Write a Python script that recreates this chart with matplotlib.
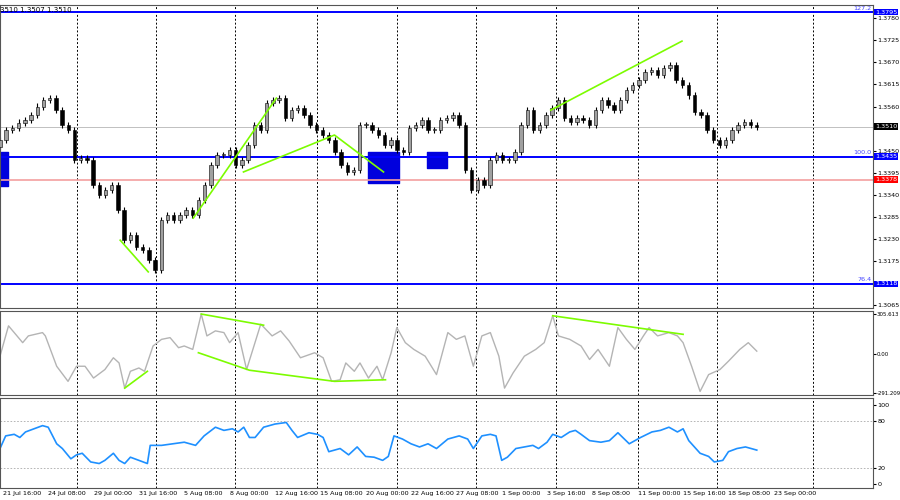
import numpy as np
import matplotlib
matplotlib.use("Agg")
import matplotlib.pyplot as plt

# ---- data ----
closes = [1.3476, 1.3501, 1.3506, 1.3520, 1.3526, 1.3539, 1.3560, 1.3576, 1.3581, 1.3551,
          1.3514, 1.3501, 1.3427, 1.3432, 1.3427, 1.3364, 1.3339, 1.3352, 1.3364, 1.3302,
          1.3227, 1.3240, 1.3210, 1.3203, 1.3178, 1.3153, 1.3277, 1.3290, 1.3277, 1.3290,
          1.3302, 1.3290, 1.3327, 1.3364, 1.3414, 1.3439, 1.3439, 1.3452, 1.3414, 1.3427,
          1.3464, 1.3514, 1.3501, 1.3569, 1.3576, 1.3581, 1.3531, 1.3551, 1.3556, 1.3539,
          1.3514, 1.3501, 1.3489, 1.3476, 1.3447, 1.3414, 1.3397, 1.3402, 1.3514, 1.3514,
          1.3501, 1.3489, 1.3464, 1.3476, 1.3452, 1.3447, 1.3506, 1.3514, 1.3526, 1.3501,
          1.3501, 1.3526, 1.3531, 1.3539, 1.3514, 1.3402, 1.3352, 1.3377, 1.3364, 1.3427,
          1.3439, 1.3427, 1.3427, 1.3447, 1.3514, 1.3551, 1.3501, 1.3514, 1.3539, 1.3556,
          1.3576, 1.3531, 1.3521, 1.3531, 1.3526, 1.3514, 1.3551, 1.3576, 1.3564, 1.3551,
          1.3576, 1.3601, 1.3613, 1.3626, 1.3646, 1.3651, 1.3638, 1.3656, 1.3663, 1.3626,
          1.3613, 1.3588, 1.3546, 1.3539, 1.3501, 1.3476, 1.3464, 1.3476, 1.3501, 1.3514,
          1.3521, 1.3514, 1.3510]
first_open = 1.3460
last_bar = 267

cci_x = [0, 3, 6, 8, 10, 15, 16, 20, 24, 27, 30, 33, 37, 40, 42, 44, 46, 49, 51, 54, 57, 60, 63, 65,
         68, 71, 73, 76, 79, 81, 84, 87, 92, 96, 99, 102, 106, 111, 114, 117, 120, 122, 125, 127,
         130, 133, 135, 138, 140, 143, 146, 150, 154, 158, 161, 164, 167, 170, 173, 176, 178, 181,
         185, 189, 192, 195, 197, 201, 205, 208, 211, 215, 218, 221, 224, 227, 229, 232, 236, 239,
         241, 244, 247, 250, 254, 257, 261, 264, 267]
cci_y = [-13, 216, 140, 89, 140, 165, 140, -89, -203, -89, -89, -178, -114, -25, -64, -254, -127,
         -102, -127, 64, 114, 127, 51, 64, 38, 305, 140, 178, 165, 89, 165, -114, 229, 140, 178,
         102, -25, 13, -25, -203, -191, -64, -127, -64, -178, -89, -191, 13, 203, 89, 38, -13,
         -152, 165, 114, 140, -89, 140, 165, -13, -254, -140, -13, 38, 89, 292, 140, 114, 64,
         -38, 38, -89, 203, 114, 38, 140, 203, 140, 165, 140, 89, -89, -279, -152, -114, -51,
         38, 89, 25]

rsi_x = [0, 2, 5, 7, 9, 12, 15, 17, 20, 22, 25, 27, 29, 32, 35, 37, 40, 42, 44, 46, 49, 52, 53, 57,
         61, 65, 69, 72, 76, 79, 82, 84, 86, 88, 90, 93, 97, 101, 103, 105, 109, 112, 114, 116,
         120, 123, 126, 129, 132, 135, 137, 139, 142, 145, 148, 151, 154, 158, 162, 165, 167,
         170, 173, 175, 177, 179, 182, 185, 188, 190, 193, 195, 198, 201, 203, 205, 208, 212,
         215, 218, 222, 226, 230, 233, 236, 239, 241, 243, 247, 250, 252, 255, 257, 260, 263, 267]
rsi_y = [45, 61, 63, 59, 66, 70, 74, 72, 51, 45, 32, 37, 39, 28, 26, 30, 39, 30, 26, 34, 30, 26,
         49, 49, 51, 53, 49, 61, 72, 68, 70, 66, 72, 59, 59, 72, 76, 78, 68, 59, 65, 63, 59, 41,
         45, 37, 47, 35, 34, 30, 35, 61, 57, 51, 47, 51, 45, 57, 61, 57, 45, 61, 63, 61, 30, 34,
         45, 47, 49, 45, 53, 63, 59, 66, 68, 63, 55, 53, 55, 65, 51, 59, 66, 68, 72, 66, 70, 55,
         39, 35, 28, 30, 41, 45, 47, 43]

red_level = 1.3378
last_price = 1.3510
price_ticks = [1.3780, 1.3725, 1.3670, 1.3615, 1.3560, 1.3450, 1.3395, 1.3340, 1.3285,
               1.3230, 1.3175, 1.3065]
boxed = [("1.3795", 1.3795, "#0000ff"), ("1.3435", 1.3435, "#0000ff"), ("1.3118", 1.3118, "#0000ff"),
         ("1.3378", 1.3378, "red"), ("1.3510", 1.3510, "black")]
fibo = [("127.2", 1.3795), ("100.0", 1.3435), ("76.4", 1.3118)]
date_labels = ["21 Jul 16:00", "24 Jul 08:00", "29 Jul 00:00", "31 Jul 16:00", "5 Aug 08:00",
               "8 Aug 00:00", "12 Aug 16:00", "15 Aug 08:00", "20 Aug 00:00", "22 Aug 16:00",
               "27 Aug 08:00", "1 Sep 00:00", "3 Sep 16:00", "8 Sep 08:00", "11 Sep 00:00",
               "15 Sep 16:00", "18 Sep 08:00", "23 Sep 00:00"]
grid_bars = [27, 55, 83, 112, 140, 168, 196, 225, 253, 287]

price_lines = [([42.4, 52.3], [1.3227, 1.3148]),
               ([68.2, 97.5], [1.3282, 1.3581]),
               ([85.9, 118, 135.3], [1.3397, 1.3489, 1.3397]),
               ([194.3, 240.6], [1.3551, 1.3723])]
cci_lines = [([44, 52], [-254, -127]),
             ([71, 93], [305, 221]),
             ([70, 88, 118, 136], [13, -119, -203, -191]),
             ([195, 241], [292, 152])]
zones = [(0, 2.8, 1.3362, 1.3447), (130, 140.6, 1.3369, 1.3447), (150.5, 157.6, 1.3407, 1.3447)]

XMAX = 308
GREEN = "#7cfc00"
BLUE = "#0000ff"
FS = 4.6

fig = plt.figure(figsize=(9, 5), dpi=100)
ax = fig.add_axes([0, 0.384, 0.97, 0.606])
ax_cci = fig.add_axes([0, 0.21, 0.97, 0.168], sharex=ax)
ax_rsi = fig.add_axes([0, 0.024, 0.97, 0.18], sharex=ax)

for a in (ax, ax_cci, ax_rsi):
    a.set_xlim(0, XMAX)
    for g in grid_bars:
        a.axvline(g, color="black", ls=(0, (2, 2)), lw=0.7, zorder=0)
    a.yaxis.tick_right()
    a.tick_params(axis="y", labelsize=FS, length=2, pad=1)
    a.tick_params(axis="x", length=0)
    for s in a.spines.values():
        s.set_color("#555555")

# ---- candles ----
xs = np.linspace(0, last_bar, len(closes))
opens = [first_open] + closes[:-1]
w = (xs[1] - xs[0]) * 0.55
for x, o, c in zip(xs, opens, closes):
    up = c >= o
    lo, hi = min(o, c), max(o, c)
    ax.vlines(x, lo - 0.0008, hi + 0.0008, color="black", lw=0.8, zorder=2)
    ax.bar(x, max(hi - lo, 0.0002), bottom=lo, width=w,
           color="#a0a0a0" if up else "black", edgecolor="black", lw=0.4, zorder=3)

for x0, x1, y0, y1 in zones:
    ax.fill_between([x0, x1], y0, y1, color="#0000dd", zorder=1)
for lx, ly in price_lines:
    ax.plot(lx, ly, color=GREEN, lw=1.2, zorder=4)
for _, v, _ in boxed[:3]:
    ax.axhline(v, color=BLUE, lw=1.4, zorder=1)
ax.axhline(red_level, color="#f4a0a0", lw=1.2, zorder=1)
ax.axhline(last_price, color="#c0c0c0", lw=0.7, zorder=1)

ax.set_ylim(1.3058, 1.3813)
ax.set_yticks(price_ticks)
ax.set_yticklabels([f"{t:.4f}" for t in price_ticks])
for txt, v, bg in boxed:
    ax.text(1.002, v, txt, transform=ax.get_yaxis_transform(), fontsize=FS, color="white",
            va="center", ha="left", bbox=dict(boxstyle="square,pad=0.12", fc=bg, ec="none"),
            clip_on=False, zorder=10)
for txt, v in fibo:
    ax.text(0.998, v + 0.0004, txt, transform=ax.get_yaxis_transform(), fontsize=FS,
            color="#4444ff", ha="right", va="bottom")
ax.text(0.0, 0.995, "3510 1.3507 1.3510", transform=ax.transAxes, fontsize=5, va="top")
plt.setp(ax.get_xticklabels(), visible=False)

# ---- CCI ----
ax_cci.plot(cci_x, cci_y, color="#b4b4b4", lw=1)
for lx, ly in cci_lines:
    ax_cci.plot(lx, ly, color=GREEN, lw=1.2)
ax_cci.set_ylim(-306, 328)
ax_cci.set_yticks([305.613, 0, -291.209])
ax_cci.set_yticklabels(["305.613", "0.00", "-291.209"])
ax_cci.tick_params(axis="y", labelsize=3.9, pad=0.5)
plt.setp(ax_cci.get_xticklabels(), visible=False)

# ---- RSI ----
ax_rsi.plot(rsi_x, rsi_y, color="#1e90ff", lw=1.2)
for lv in (80, 20):
    ax_rsi.axhline(lv, color="#aaaaaa", ls=(0, (2, 2)), lw=0.6)
ax_rsi.set_ylim(-5, 109)
ax_rsi.set_yticks([100, 80, 20, 0])
ax_rsi.set_xticks([1 + 16 * i for i in range(len(date_labels))])
ax_rsi.set_xticklabels(date_labels, fontsize=FS, ha="left")
ax_rsi.tick_params(axis="x", pad=2)

fig.savefig("out.png", dpi=100)
